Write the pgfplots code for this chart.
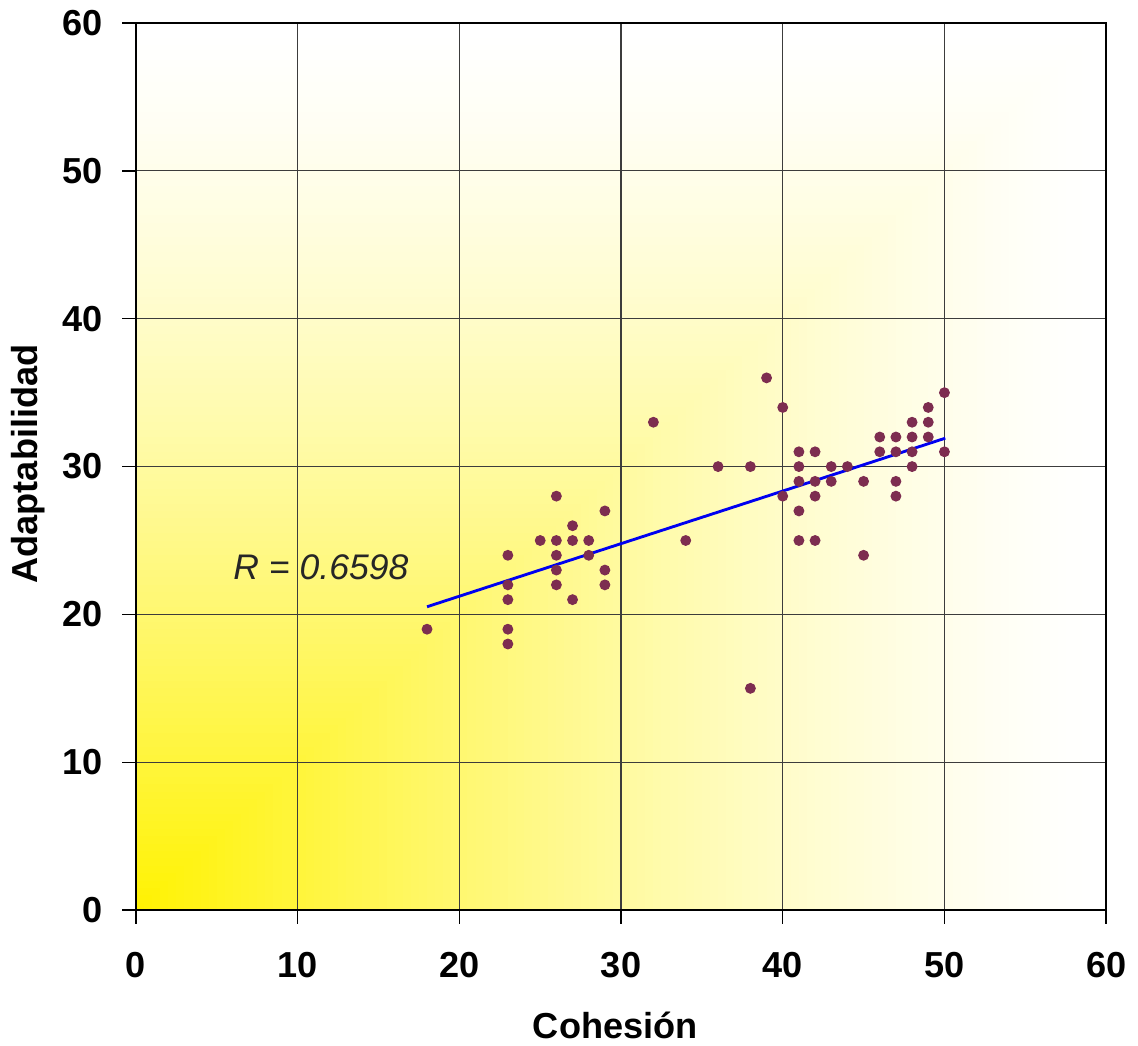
\documentclass[border=0pt]{standalone}
\usepackage{fontspec}
\setmainfont{Liberation Sans}
\usepackage{xcolor}
\usepackage{pgfplots}
\pgfplotsset{compat=1.18}
\definecolor{markplum}{RGB}{125,45,80}
\definecolor{fitblue}{RGB}{0,0,240}
\definecolor{gridgray}{RGB}{60,60,60}

\pgfplotstableread{
x y
18 19
23 24
23 22
23 21
23 19
23 18
25 25
26 28
26 25
26 24
26 23
26 22
27 26
27 25
27 21
28 25
28 24
29 27
29 23
29 22
32 33
34 25
36 30
38 30
38 15
39 36
40 34
40 28
41 31
41 30
41 29
41 27
41 25
42 31
42 29
42 28
42 25
43 30
43 29
44 30
45 29
45 24
46 32
46 31
47 32
47 31
47 29
47 28
48 33
48 32
48 31
48 30
49 34
49 33
49 32
50 35
50 31
}\datatable

\begin{document}
\begin{tikzpicture}
\begin{axis}[
    set layers,
    scale only axis,
    width=341pt, height=311.8pt,
    xmin=0, xmax=60, ymin=0, ymax=60,
    xtick={0,10,...,60}, ytick={0,10,...,60},
    grid=major,
    grid style={gridgray, line width=0.4pt},
    axis line style={black, line width=0.5pt},
    tick style={black, line width=0.5pt},
    tick align=outside,
    major tick length=4.8pt,
    xtick pos=bottom, ytick pos=left,
    /pgf/number format/assume math mode=true,
    ticklabel style={font=\fontsize{12.7}{15}\selectfont\bfseries, inner sep=0pt},
    xticklabel style={anchor=center, yshift=-14.4pt},
    yticklabel style={anchor=east, xshift=-6.8pt},
    xlabel={Cohesión},
    ylabel={Adaptabilidad},
    label style={font=\fontsize{12.7}{15}\selectfont\bfseries},
    xlabel style={at={(axis description cs:0.494,-0.1296)}, anchor=center},
    ylabel style={at={(axis description cs:-0.111,0.503)}, anchor=center},
]
% corner gradient: yellow at the origin fading to white
\begin{pgfonlayer}{axis background}
\pgfplotsinvokeforeach{120,119,...,1}{%
    \pgfmathsetmacro\p{100*(1-#1/120)^1.4}%
    \edef\tmp{\noexpand\fill[yellow!\p!white] (axis cs:0,0) rectangle (axis cs:#1/2,#1/2);}%
    \tmp
}
\end{pgfonlayer}

\addplot[only marks, mark=*, mark size=1.7pt, color=markplum] table[x=x, y=y] {\datatable};
\addplot[fitblue, line width=1pt] coordinates {(18,20.52) (50.05,31.92)};

\node[font=\fontsize{12.5}{15}\selectfont\itshape, text=black!85] at (axis cs:11.44,23.2) {R = 0.6598};
\end{axis}
\pgfresetboundingbox
\path[use as bounding box] ([shift={(-47.8pt,-47.45pt)}]current axis.south west)
    rectangle ([shift={(352.2pt,319.9pt)}]current axis.south west);
\end{tikzpicture}
\end{document}
